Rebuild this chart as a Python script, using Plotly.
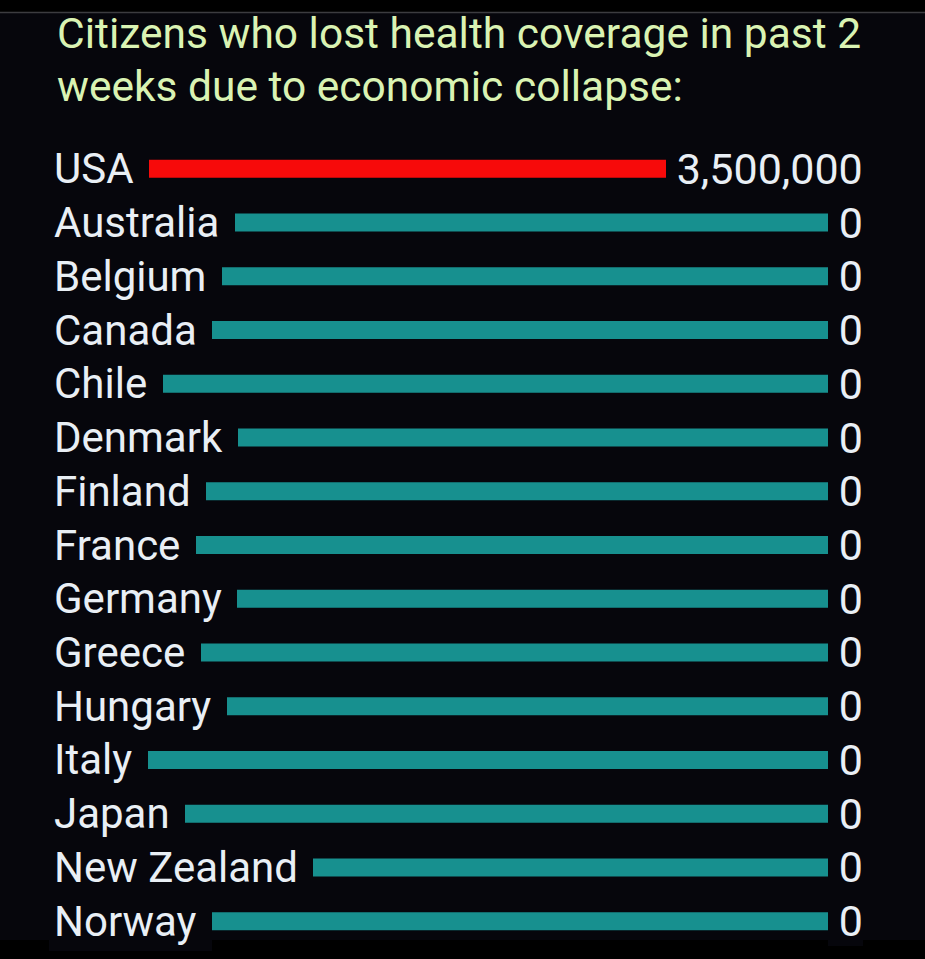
import plotly.graph_objects as go

# rows, top to bottom
countries = ["USA", "Australia", "Belgium", "Canada", "Chile", "Denmark",
             "Finland", "France", "Germany", "Greece", "Hungary", "Italy",
             "Japan", "New Zealand", "Norway"]
lost_coverage = [3500000, 0, 0, 0, 0, 0, 0, 0, 0, 0, 0, 0, 0, 0, 0]
# every row is drawn as a full-width track
track = [1, 1, 1, 1, 1, 1, 1, 1, 1, 1, 1, 1, 1, 1, 1]

title_lines = ["Citizens who lost health coverage in past 2",
               "weeks due to economic collapse:"]

BG = "#06060c"
RED = "#f70a0a"
TEAL = "#17908f"
TEXT = "#e9eff5"
TITLE = "#daf3b3"
FONT = "Roboto"

W, H = 925, 959
ML, MR, MT, MB = 53, 62, 142, 11
plot_w = W - ML - MR
plot_h = H - MT - MB


def py(px):
    # pixel row (from top) -> paper y
    return (H - MB - px) / plot_h


def pxx(px):
    # pixel column (from left) -> paper x
    return (px - ML) / plot_w


colors = [RED if v > 0 else TEAL for v in lost_coverage]

fig = go.Figure(go.Bar(
    x=track, y=countries, orientation="h",
    marker=dict(color=colors, line=dict(width=0)),
    width=0.335, hoverinfo="skip",
))

annotations = []
for c, v in zip(countries, lost_coverage):
    annotations.append(dict(
        x=0, y=c, xref="x", yref="y", xanchor="left", yanchor="middle",
        text=c + "\u00a0", showarrow=False, bgcolor=BG, borderpad=5, borderwidth=0,
        xshift=-4, font=dict(family=FONT, size=42, color=TEXT),
    ))
    annotations.append(dict(
        x=1, y=c, xref="x", yref="y", xanchor="right", yanchor="middle",
        text="\u00a0" + f"{v:,}", showarrow=False, bgcolor=BG, borderpad=0, borderwidth=0,
        font=dict(family=FONT, size=43, color=TEXT),
    ))

for line, center in zip(title_lines, [33, 86]):
    annotations.append(dict(
        x=0, y=py(center), xref="paper", yref="paper", xanchor="left", yanchor="middle",
        xshift=2, text=line, showarrow=False,
        font=dict(family=FONT, size=42.5, color=TITLE),
    ))

shapes = [
    dict(type="rect", xref="paper", yref="paper", x0=pxx(0), x1=pxx(W),
         y0=py(12), y1=py(0), fillcolor="#000000", line=dict(width=0), layer="below"),
    dict(type="line", xref="paper", yref="paper", x0=pxx(0), x1=pxx(W),
         y0=py(12.5), y1=py(12.5), line=dict(color="#3c3c40", width=1.5)),
    dict(type="rect", xref="paper", yref="paper", x0=pxx(0), x1=pxx(W),
         y0=py(H), y1=py(940), fillcolor="#000000", line=dict(width=0), layer="below"),
]

fig.update_layout(
    width=W, height=H, autosize=False,
    margin=dict(l=ML, r=MR, t=MT, b=MB, pad=0),
    paper_bgcolor=BG, plot_bgcolor=BG,
    showlegend=False, hovermode=False,
    xaxis=dict(range=[0, 1], visible=False, fixedrange=True),
    yaxis=dict(type="category", range=[14.5, -0.5], visible=False, fixedrange=True),
    annotations=annotations, shapes=shapes,
)

fig.write_html("out.html",
               config={"displayModeBar": False, "staticPlot": True},
               post_script="document.body.style.margin='0';document.body.style.background='#000';")
